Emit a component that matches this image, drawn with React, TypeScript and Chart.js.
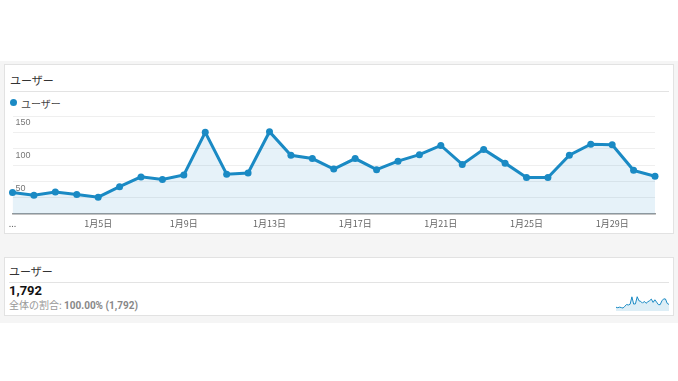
import React, { useEffect, useRef } from "react";
import { Chart, registerables } from "chart.js";

Chart.register(...registerables);

const categories = [
  "1月1日", "1月2日", "1月3日", "1月4日", "1月5日", "1月6日", "1月7日", "1月8日",
  "1月9日", "1月10日", "1月11日", "1月12日", "1月13日", "1月14日", "1月15日", "1月16日",
  "1月17日", "1月18日", "1月19日", "1月20日", "1月21日", "1月22日", "1月23日", "1月24日",
  "1月25日", "1月26日", "1月27日", "1月28日", "1月29日", "1月30日", "1月31日",
];

const xTickLabels = [
  "...", "", "", "", "1月5日", "", "", "", "1月9日", "", "", "", "1月13日", "", "", "",
  "1月17日", "", "", "", "1月21日", "", "", "", "1月25日", "", "", "", "1月29日", "", "",
];

const users = [
  33, 29, 34, 30, 26, 42, 57, 53, 60, 125, 61, 63, 126, 90, 85, 69,
  85, 68, 81, 91, 105, 76, 99, 78, 56, 56, 90, 107, 106, 67, 58,
];

const yTickLabels: Record<number, string> = { 50: "50", 100: "100", 150: "150" };

const seriesName = "ユーザー";
const totalUsers = "1,792";
const shareLabel = "全体の割合:";
const shareValue = "100.00% (1,792)";

const BLUE = "#1a8ac4";
const FILL = "rgba(26,138,196,0.11)";
const JP = "'Noto Sans CJK JP', 'Liberation Sans', Arial, sans-serif";

function MainChart() {
  const ref = useRef<HTMLCanvasElement>(null);
  useEffect(() => {
    const chart = new Chart(ref.current!, {
      type: "line",
      data: {
        labels: categories,
        datasets: [
          {
            label: seriesName,
            data: users,
            borderColor: BLUE,
            backgroundColor: FILL,
            fill: "origin",
            borderWidth: 3,
            pointRadius: 3.5,
            pointBackgroundColor: BLUE,
            pointBorderColor: BLUE,
            pointBorderWidth: 0,
            tension: 0,
          },
        ],
      },
      options: {
        animation: false,
        responsive: false,
        maintainAspectRatio: false,
        layout: { padding: { left: 6.5, right: 23, top: 10, bottom: 1 } },
        plugins: { legend: { display: false }, tooltip: { enabled: false } },
        scales: {
          x: {
            offset: false,
            grid: { display: false, drawTicks: false },
            border: { display: true, color: "#9a9a9a", width: 1.5 },
            ticks: {
              autoSkip: false,
              maxRotation: 0,
              padding: 4,
              color: "#666",
              font: { family: JP, size: 9 },
              callback: (_v: any, i: number) => xTickLabels[i],
            },
          },
          y: {
            min: 0,
            max: 150,
            grid: { color: "#efefef", drawTicks: false, lineWidth: 1 },
            border: { display: false },
            ticks: {
              stepSize: 25,
              mirror: true,
              padding: 3,
              labelOffset: 7,
              color: "#777",
              font: { family: "'Liberation Sans', Arial, sans-serif", size: 9 },
              callback: (v: any) => yTickLabels[v as number] ?? "",
            },
          },
        },
      },
    });
    return () => chart.destroy();
  }, []);
  return (
    <canvas
      ref={ref}
      width={678}
      height={128}
      style={{ position: "absolute", left: 0, top: 106, width: 678, height: 128 }}
    />
  );
}

function Sparkline() {
  const ref = useRef<HTMLCanvasElement>(null);
  useEffect(() => {
    const chart = new Chart(ref.current!, {
      type: "line",
      data: {
        labels: categories,
        datasets: [
          {
            data: users,
            borderColor: BLUE,
            backgroundColor: "rgba(26,138,196,0.15)",
            fill: "origin",
            borderWidth: 1,
            pointRadius: 0,
            tension: 0,
          },
        ],
      },
      options: {
        animation: false,
        responsive: false,
        layout: { padding: 0 },
        plugins: { legend: { display: false }, tooltip: { enabled: false } },
        scales: {
          x: { display: false },
          y: { display: false, min: 0, max: 150 },
        },
      },
    });
    return () => chart.destroy();
  }, []);
  return (
    <canvas
      ref={ref}
      width={53}
      height={17}
      style={{ position: "absolute", left: 616, top: 294, width: 53, height: 17 }}
    />
  );
}

export default function App() {
  useEffect(() => {
    document.body.style.margin = "0";
  }, []);
  const card: React.CSSProperties = {
    position: "absolute",
    left: 4,
    width: 670,
    background: "#fff",
    border: "1px solid #e2e2e2",
    boxSizing: "border-box",
  };
  return (
    <div style={{ position: "relative", width: 678, height: 381, background: "#fff", fontFamily: JP, overflow: "hidden" }}>
      <div style={{ position: "absolute", left: 0, top: 61, width: 678, height: 262, background: "#f5f5f5" }} />
      <div style={{ ...card, top: 64, height: 170 }}>
        <div style={{ position: "absolute", left: 5, top: 7, fontSize: 11, color: "#333" }}>{seriesName}</div>
        <div style={{ position: "absolute", left: 5, right: 4, top: 26, height: 1, background: "#e3e3e3" }} />
        <div style={{ position: "absolute", left: 5, top: 34, width: 7, height: 7, borderRadius: "50%", background: BLUE }} />
        <div style={{ position: "absolute", left: 16, top: 31, fontSize: 10, color: "#444" }}>{seriesName}</div>
      </div>
      <div style={{ ...card, top: 257, height: 59 }}>
        <div style={{ position: "absolute", left: 4, top: 5, fontSize: 11, color: "#333" }}>{seriesName}</div>
        <div style={{ position: "absolute", left: 4, right: 4, top: 24, height: 1, background: "#e3e3e3" }} />
        <div style={{ position: "absolute", left: 4, top: 25, fontSize: 13, fontWeight: 700, color: "#111", fontFamily: "Roboto, 'Liberation Sans', sans-serif" }}>{totalUsers}</div>
        <div style={{ position: "absolute", left: 4, top: 39, fontSize: 10, color: "#999" }}>
          {shareLabel} <span style={{ fontWeight: 700, color: "#888", fontFamily: "Roboto, 'Liberation Sans', sans-serif" }}>{shareValue}</span>
        </div>
      </div>
      <MainChart />
      <Sparkline />
    </div>
  );
}
